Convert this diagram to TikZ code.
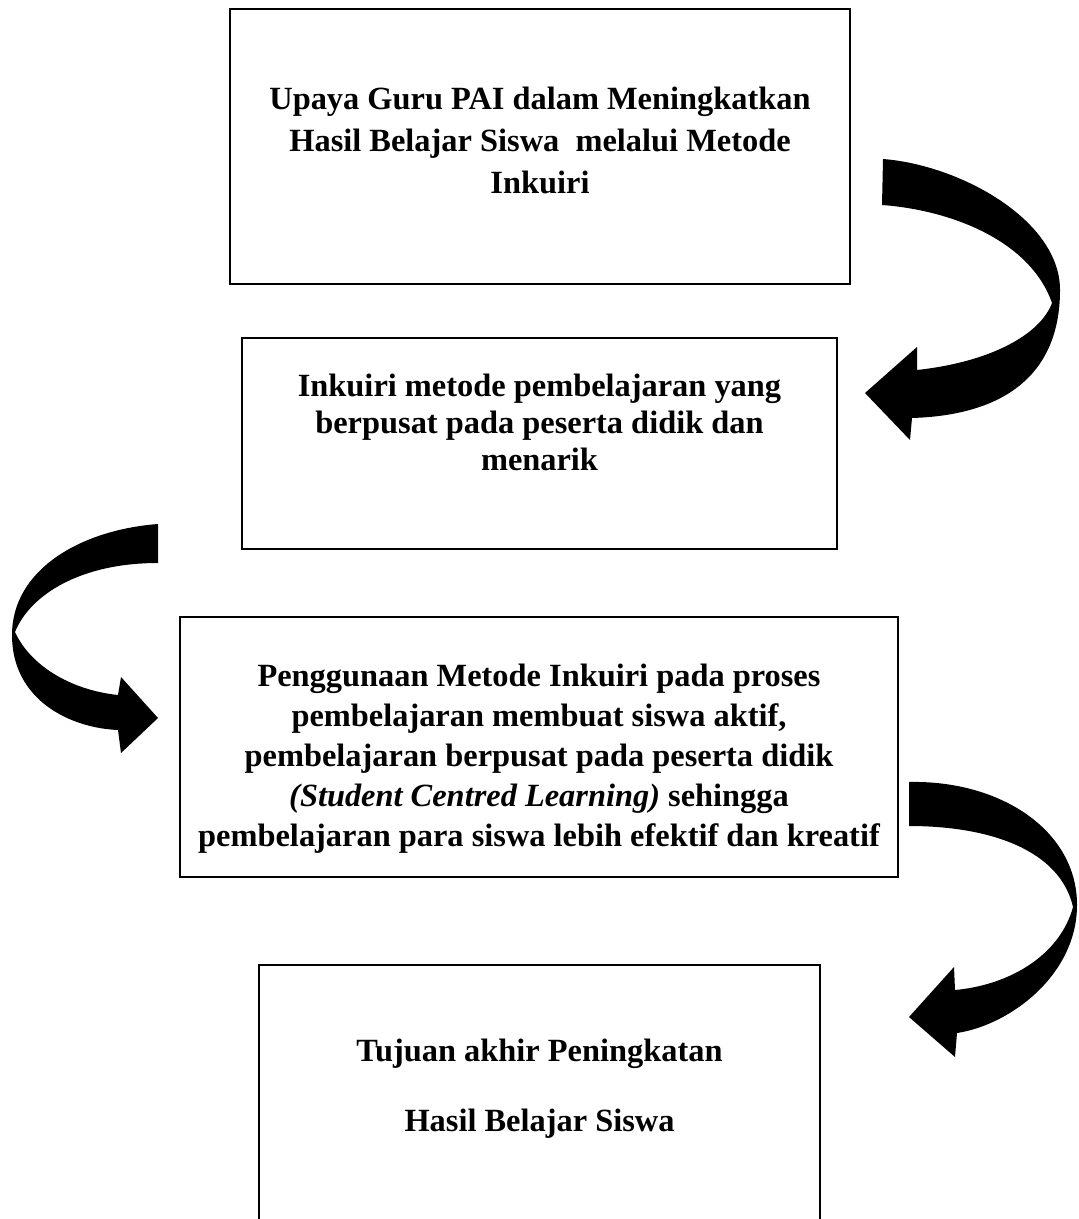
\documentclass[tikz,border=0pt]{standalone}
\usepackage{fontspec}
\setmainfont{Liberation Serif}
\begin{document}
\begin{tikzpicture}[x=0.5pt,y=-0.5pt,
    kotak/.style={draw,line width=1pt,rectangle,inner sep=0pt},
    teks/.style={align=center,font=\bfseries\fontsize{16.2}{#1}\selectfont}]
      \useasboundingbox (0,0) rectangle (1079,1219);
      \node[kotak,minimum width=310pt,minimum height=137.5pt] (b1) at (540,146.5) {};
      \node[kotak,minimum width=297.5pt,minimum height=105.5pt] (b2) at (539.5,443.5) {};
      \node[kotak,minimum width=359pt,minimum height=130pt] (b3) at (539,747) {};
      \node[kotak,minimum width=280.5pt,minimum height=137.5pt] (b4) at (539.5,1102.5) {};
      \node[teks=21pt] (t1) at (540,140) {Upaya Guru PAI dalam Meningkatkan\\
        Hasil Belajar Siswa \ melalui Metode\\
        Inkuiri};
      \node[teks=18.5pt] (t2) at (539.5,422) {Inkuiri metode pembelajaran yang\\
        berpusat pada peserta didik dan\\
        menarik};
      \node[teks=20pt] (t3) at (539,759) {Penggunaan Metode Inkuiri pada proses\\
        pembelajaran membuat siswa aktif,\\
        pembelajaran berpusat pada peserta didik\\
        \textit{(Student Centred Learning)} sehingga\\
        pembelajaran para siswa lebih efektif dan kreatif};
      \node[teks=35pt] (t4) at (539.5,1089) {Tujuan akhir Peningkatan\\
        Hasil Belajar Siswa};
      \begin{scope}[fill=black]
        \fill (883,159) .. controls (960,165) and (1060,220) .. (1060,290)
          .. controls (1060,370) and (1010,415) .. (912,418)
          -- (910,440) -- (865,393) -- (917,347) -- (917,370)
          .. controls (990,362) and (1040,335) .. (1052,303)
          .. controls (1030,240) and (950,210) .. (882,205) -- cycle;
        \fill (158,524) .. controls (80,530) and (12,570) .. (12,635)
          .. controls (12,700) and (70,728) .. (118,730)
          -- (121,753) -- (158,718) -- (121,677) -- (118,695)
          .. controls (70,690) and (30,665) .. (15,632)
          .. controls (30,595) and (80,563) .. (158,563) -- cycle;
        \fill (909,782) .. controls (1000,780) and (1077,830) .. (1077,905)
          .. controls (1077,975) and (1010,1025) .. (957,1033)
          -- (955,1057) -- (909,1017) -- (954,967) -- (955,990)
          .. controls (1010,985) and (1060,955) .. (1073,907)
          .. controls (1060,850) and (990,826) .. (909,826) -- cycle;
      \end{scope}
    \end{tikzpicture}
\end{document}
